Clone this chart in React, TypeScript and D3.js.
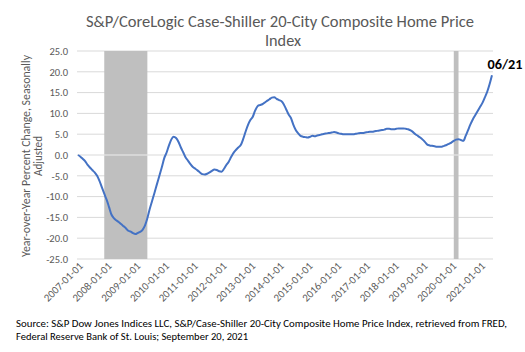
import React, { useEffect, useRef } from 'react';
import * as d3 from 'd3';

// YoY % change, monthly, Jan 2007 .. Jun 2021 (one array per year)
const y2007 = [0.0, -0.4, -0.9, -1.5, -2.3, -3.0, -3.6, -4.2, -5.0, -6.2, -7.8, -9.3];
const y2008 = [-10.8, -12.6, -14.3, -15.2, -15.7, -16.1, -16.6, -17.1, -17.6, -18.2, -18.4, -18.8];
const y2009 = [-19.0, -18.7, -18.5, -18.0, -17.0, -15.2, -13.0, -11.0, -9.0, -7.0, -5.0, -3.0];
const y2010 = [-0.8, 0.6, 2.2, 3.7, 4.4, 4.1, 3.2, 1.8, 0.6, -0.6, -1.4, -2.2];
const y2011 = [-2.9, -3.3, -3.7, -4.2, -4.6, -4.7, -4.5, -4.2, -3.8, -3.5, -3.6, -3.9];
const y2012 = [-4.0, -3.3, -2.4, -1.6, -0.5, 0.5, 1.2, 1.8, 2.4, 3.8, 5.6, 7.2];
const y2013 = [8.4, 9.2, 10.6, 11.7, 12.0, 12.2, 12.6, 13.0, 13.4, 13.8, 13.9, 13.5];
const y2014 = [13.2, 12.9, 12.2, 11.0, 9.8, 8.9, 7.3, 6.0, 5.2, 4.6, 4.4, 4.3];
const y2015 = [4.2, 4.4, 4.6, 4.5, 4.7, 4.8, 5.0, 5.1, 5.2, 5.3, 5.4, 5.5];
const y2016 = [5.4, 5.2, 5.1, 5.0, 5.0, 5.0, 5.0, 5.0, 5.1, 5.2, 5.3, 5.3];
const y2017 = [5.4, 5.5, 5.6, 5.6, 5.7, 5.8, 5.9, 6.0, 6.1, 6.3, 6.3, 6.2];
const y2018 = [6.2, 6.3, 6.4, 6.4, 6.4, 6.3, 6.2, 5.9, 5.5, 5.0, 4.6, 4.2];
const y2019 = [3.7, 3.1, 2.5, 2.3, 2.2, 2.1, 2.0, 2.0, 2.0, 2.2, 2.4, 2.7];
const y2020 = [3.0, 3.4, 3.7, 3.8, 3.6, 3.4, 4.6, 6.0, 7.4, 8.6, 9.6, 10.6];
const y2021 = [11.6, 12.6, 13.8, 15.2, 17.0, 19.2];

const values = [
  ...y2007, ...y2008, ...y2009, ...y2010, ...y2011, ...y2012, ...y2013, ...y2014,
  ...y2015, ...y2016, ...y2017, ...y2018, ...y2019, ...y2020, ...y2021,
];

const yTicks = [25, 20, 15, 10, 5, 0, -5, -10, -15, -20, -25];
const xTickLabels = [
  '2007-01-01', '2008-01-01', '2009-01-01', '2010-01-01', '2011-01-01',
  '2012-01-01', '2013-01-01', '2014-01-01', '2015-01-01', '2016-01-01',
  '2017-01-01', '2018-01-01', '2019-01-01', '2020-01-01', '2021-01-01',
];
// recession periods [start, end]
const recessions = [
  ['2007-12-01', '2009-06-01'],
  ['2020-02-01', '2020-04-01'],
];

const title1 = 'S&P/CoreLogic Case-Shiller 20-City Composite Home Price';
const title2 = 'Index';
const yTitle1 = 'Year-over-Year Percent Change, Seasonally';
const yTitle2 = 'Adjusted';
const source1 = 'Source: S&P Dow Jones Indices LLC, S&P/Case-Shiller 20-City Composite Home Price Index, retrieved from FRED,';
const source2 = 'Federal Reserve Bank of St. Louis; September 20, 2021';
const endLabel = '06/21';

const FONT = "Calibri, Carlito, 'Open Sans', sans-serif";

const App: React.FC = () => {
  const svgRef = useRef<SVGSVGElement>(null);

  useEffect(() => {
    if (!svgRef.current) return;
    const svg = d3.select(svgRef.current);
    svg.selectAll('*').remove();

    const parse = d3.utcParse('%Y-%m-%d');
    const start = parse('2007-01-01') as Date;
    const dates = values.map((_, i) => d3.utcMonth.offset(start, i));

    const x = d3.scaleUtc()
      .domain([start, dates[dates.length - 1]])
      .range([78, 492]);
    const y = d3.scaleLinear().domain([-25, 25]).range([259, 51]);

    // gridlines
    svg.append('g')
      .selectAll('line')
      .data(yTicks)
      .join('line')
      .attr('x1', 77)
      .attr('x2', 493)
      .attr('y1', d => y(d))
      .attr('y2', d => y(d))
      .attr('stroke', '#d9d9d9')
      .attr('stroke-width', 1);

    // recession bars (drawn as a positive and a negative column)
    const bands = svg.append('g');
    recessions.forEach(([a, b]) => {
      const x0 = x(parse(a) as Date);
      const x1 = x(parse(b) as Date);
      bands.append('rect')
        .attr('x', x0).attr('width', x1 - x0)
        .attr('y', y(25)).attr('height', y(0) - y(25) - 0.5)
        .attr('fill', '#bfbfbf');
      bands.append('rect')
        .attr('x', x0).attr('width', x1 - x0)
        .attr('y', y(0) + 0.5).attr('height', y(-25) - y(0) - 0.5)
        .attr('fill', '#bfbfbf');
    });

    // y tick labels
    svg.append('g')
      .selectAll('text')
      .data(yTicks)
      .join('text')
      .attr('x', 68)
      .attr('y', d => y(d) + 3.8)
      .attr('text-anchor', 'end')
      .style('font-family', FONT)
      .style('font-size', '10.5px')
      .style('fill', '#595959')
      .text(d => d.toFixed(1));

    // x tick labels, rotated
    svg.append('g')
      .selectAll('text')
      .data(xTickLabels)
      .join('text')
      .attr('transform', d => `translate(${x(parse(d) as Date) + 3},${264}) rotate(-45)`)
      .attr('text-anchor', 'end')
      .attr('dy', '0.35em')
      .style('font-family', FONT)
      .style('font-size', '10.8px')
      .style('fill', '#595959')
      .text(d => d);

    // line
    const line = d3.line<number>()
      .x((_, i) => x(dates[i]))
      .y(d => y(d))
      .curve(d3.curveMonotoneX);
    svg.append('path')
      .datum(values)
      .attr('d', line)
      .attr('fill', 'none')
      .attr('stroke', '#4472c4')
      .attr('stroke-width', 2)
      .attr('stroke-linejoin', 'round');

    // end label
    svg.append('text')
      .attr('x', 505)
      .attr('y', 69)
      .attr('text-anchor', 'middle')
      .attr('textLength', 35)
      .attr('lengthAdjust', 'spacingAndGlyphs')
      .style('font-family', FONT)
      .style('font-size', '14px')
      .style('font-weight', 'bold')
      .style('fill', '#000')
      .text(endLabel);

    // title
    svg.append('text')
      .attr('x', 280).attr('y', 27)
      .attr('text-anchor', 'middle')
      .attr('textLength', 388)
      .attr('lengthAdjust', 'spacingAndGlyphs')
      .style('font-family', FONT)
      .style('font-size', '16px')
      .style('fill', '#595959')
      .text(title1);
    svg.append('text')
      .attr('x', 283).attr('y', 46)
      .attr('text-anchor', 'middle')
      .attr('textLength', 36)
      .attr('lengthAdjust', 'spacingAndGlyphs')
      .style('font-family', FONT)
      .style('font-size', '16px')
      .style('fill', '#595959')
      .text(title2);

    // y axis title
    svg.append('text')
      .attr('transform', 'translate(30,156) rotate(-90)')
      .attr('text-anchor', 'middle')
      .attr('textLength', 202)
      .attr('lengthAdjust', 'spacingAndGlyphs')
      .style('font-family', FONT)
      .style('font-size', '11.5px')
      .style('fill', '#595959')
      .text(yTitle1);
    svg.append('text')
      .attr('transform', 'translate(42,156) rotate(-90)')
      .attr('text-anchor', 'middle')
      .attr('textLength', 40)
      .attr('lengthAdjust', 'spacingAndGlyphs')
      .style('font-family', FONT)
      .style('font-size', '11.5px')
      .style('fill', '#595959')
      .text(yTitle2);

    // source note
    svg.append('text')
      .attr('x', 16).attr('y', 327)
      .attr('textLength', 491)
      .attr('lengthAdjust', 'spacingAndGlyphs')
      .style('font-family', FONT)
      .style('font-size', '11px')
      .style('fill', '#000')
      .text(source1);
    svg.append('text')
      .attr('x', 16).attr('y', 340)
      .attr('textLength', 232)
      .attr('lengthAdjust', 'spacingAndGlyphs')
      .style('font-family', FONT)
      .style('font-size', '11px')
      .style('fill', '#000')
      .text(source2);
  }, []);

  return (
    <svg
      ref={svgRef}
      width={525}
      height={352}
      style={{ position: 'absolute', left: 0, top: 0, background: '#fff' }}
    />
  );
};

export default App;
